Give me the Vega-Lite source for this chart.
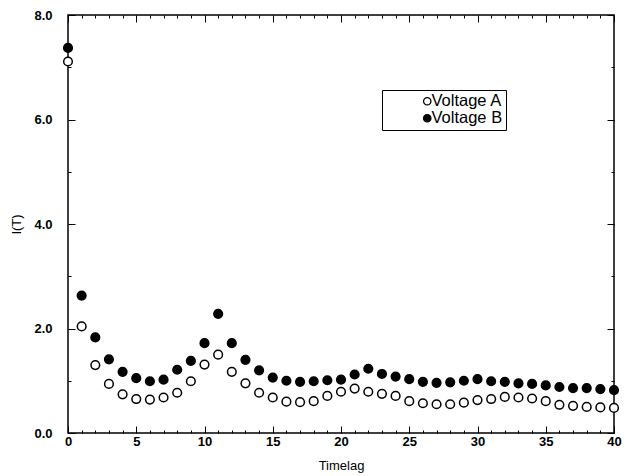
{
  "$schema": "https://vega.github.io/schema/vega-lite/v6.json",
  "autosize": "none",
  "width": 546,
  "height": 418,
  "padding": {"left": 68, "top": 15, "right": 13, "bottom": 43},
  "background": "white",
  "config": {
    "view": {"stroke": "black", "strokeWidth": 1.5},
    "font": "Liberation Sans",
    "axis": {"grid": false, "zindex": 1, "domainWidth": 0, "tickColor": "black", "labelColor": "black", "titleColor": "black", "labelFontSize": 13, "titleFontSize": 13, "titleFontWeight": "normal", "labelFontWeight": "bold", "labelOverlap": false}
  },
  "data": {"values": [
    {"t":0,"series":"Voltage A","v":7.11},{"t":0,"series":"Voltage B","v":7.37},
    {"t":1,"series":"Voltage A","v":2.04},{"t":1,"series":"Voltage B","v":2.63},
    {"t":2,"series":"Voltage A","v":1.30},{"t":2,"series":"Voltage B","v":1.83},
    {"t":3,"series":"Voltage A","v":0.94},{"t":3,"series":"Voltage B","v":1.41},
    {"t":4,"series":"Voltage A","v":0.74},{"t":4,"series":"Voltage B","v":1.17},
    {"t":5,"series":"Voltage A","v":0.65},{"t":5,"series":"Voltage B","v":1.05},
    {"t":6,"series":"Voltage A","v":0.64},{"t":6,"series":"Voltage B","v":0.99},
    {"t":7,"series":"Voltage A","v":0.68},{"t":7,"series":"Voltage B","v":1.02},
    {"t":8,"series":"Voltage A","v":0.77},{"t":8,"series":"Voltage B","v":1.21},
    {"t":9,"series":"Voltage A","v":0.99},{"t":9,"series":"Voltage B","v":1.38},
    {"t":10,"series":"Voltage A","v":1.31},{"t":10,"series":"Voltage B","v":1.72},
    {"t":11,"series":"Voltage A","v":1.50},{"t":11,"series":"Voltage B","v":2.28},
    {"t":12,"series":"Voltage A","v":1.17},{"t":12,"series":"Voltage B","v":1.72},
    {"t":13,"series":"Voltage A","v":0.95},{"t":13,"series":"Voltage B","v":1.40},
    {"t":14,"series":"Voltage A","v":0.77},{"t":14,"series":"Voltage B","v":1.20},
    {"t":15,"series":"Voltage A","v":0.68},{"t":15,"series":"Voltage B","v":1.06},
    {"t":16,"series":"Voltage A","v":0.60},{"t":16,"series":"Voltage B","v":1.00},
    {"t":17,"series":"Voltage A","v":0.59},{"t":17,"series":"Voltage B","v":0.98},
    {"t":18,"series":"Voltage A","v":0.61},{"t":18,"series":"Voltage B","v":0.99},
    {"t":19,"series":"Voltage A","v":0.71},{"t":19,"series":"Voltage B","v":1.01},
    {"t":20,"series":"Voltage A","v":0.79},{"t":20,"series":"Voltage B","v":1.02},
    {"t":21,"series":"Voltage A","v":0.85},{"t":21,"series":"Voltage B","v":1.12},
    {"t":22,"series":"Voltage A","v":0.79},{"t":22,"series":"Voltage B","v":1.23},
    {"t":23,"series":"Voltage A","v":0.75},{"t":23,"series":"Voltage B","v":1.13},
    {"t":24,"series":"Voltage A","v":0.71},{"t":24,"series":"Voltage B","v":1.08},
    {"t":25,"series":"Voltage A","v":0.61},{"t":25,"series":"Voltage B","v":1.03},
    {"t":26,"series":"Voltage A","v":0.57},{"t":26,"series":"Voltage B","v":0.98},
    {"t":27,"series":"Voltage A","v":0.55},{"t":27,"series":"Voltage B","v":0.96},
    {"t":28,"series":"Voltage A","v":0.55},{"t":28,"series":"Voltage B","v":0.97},
    {"t":29,"series":"Voltage A","v":0.58},{"t":29,"series":"Voltage B","v":1.00},
    {"t":30,"series":"Voltage A","v":0.63},{"t":30,"series":"Voltage B","v":1.03},
    {"t":31,"series":"Voltage A","v":0.65},{"t":31,"series":"Voltage B","v":0.99},
    {"t":32,"series":"Voltage A","v":0.69},{"t":32,"series":"Voltage B","v":0.98},
    {"t":33,"series":"Voltage A","v":0.68},{"t":33,"series":"Voltage B","v":0.95},
    {"t":34,"series":"Voltage A","v":0.66},{"t":34,"series":"Voltage B","v":0.94},
    {"t":35,"series":"Voltage A","v":0.61},{"t":35,"series":"Voltage B","v":0.91},
    {"t":36,"series":"Voltage A","v":0.54},{"t":36,"series":"Voltage B","v":0.88},
    {"t":37,"series":"Voltage A","v":0.52},{"t":37,"series":"Voltage B","v":0.86},
    {"t":38,"series":"Voltage A","v":0.50},{"t":38,"series":"Voltage B","v":0.86},
    {"t":39,"series":"Voltage A","v":0.49},{"t":39,"series":"Voltage B","v":0.84},
    {"t":40,"series":"Voltage A","v":0.48},{"t":40,"series":"Voltage B","v":0.82}
  ]},
  "layer": [
    {
      "mark": {"type": "point", "filled": true, "stroke": "black", "strokeWidth": 1.5, "size": 75, "opacity": 1, "shape": "circle"},
      "encoding": {
        "x": {"field": "t", "type": "quantitative", "title": "Timelag",
          "scale": {"domain": [0, 40], "nice": false, "zero": false},
          "axis": {"orient": "bottom", "values": [0, 5, 10, 15, 20, 25, 30, 35, 40], "offset": -7, "tickSize": 7, "labelPadding": 2, "titlePadding": 11, "labelFlush": false}},
        "y": {"field": "v", "type": "quantitative", "title": "I(T)",
          "scale": {"domain": [0, 8], "nice": false},
          "axis": {"orient": "left", "values": [0, 2, 4, 6, 8], "format": ".1f", "offset": -7, "tickSize": 7, "labelPadding": 16, "titlePadding": 10}},
        "fill": {"field": "series", "type": "nominal",
          "scale": {"domain": ["Voltage A", "Voltage B"], "range": ["white", "black"]},
          "legend": {"title": null, "orient": "none", "legendX": 314, "legendY": 75, "strokeColor": "black", "fillColor": "white", "padding": 3, "labelFontSize": 16.5, "labelFontWeight": "normal", "labelColor": "black", "symbolStrokeColor": "black", "symbolStrokeWidth": 1.3, "symbolSize": 55, "symbolType": "circle", "symbolOffset": 34, "rowPadding": 0, "labelOffset": -4}}
      }
    },
    {
      "mark": {"type": "point", "opacity": 0},
      "encoding": {
        "x": {"field": "t", "type": "quantitative",
          "scale": {"domain": [0, 40], "nice": false, "zero": false},
          "axis": {"orient": "top", "title": null, "labels": false, "values": [0, 5, 10, 15, 20, 25, 30, 35, 40], "offset": -7, "tickSize": 7}},
        "y": {"field": "v", "type": "quantitative",
          "scale": {"domain": [0, 8], "nice": false},
          "axis": {"orient": "right", "title": null, "labels": false, "values": [0, 2, 4, 6, 8], "offset": -7, "tickSize": 7}}
      }
    },
    {
      "mark": {"type": "point", "opacity": 0},
      "encoding": {
        "x": {"field": "t", "type": "quantitative",
          "scale": {"domain": [0, 40], "nice": false, "zero": false},
          "axis": {"orient": "bottom", "title": null, "labels": false, "values": [1,2,3,4,6,7,8,9,11,12,13,14,16,17,18,19,21,22,23,24,26,27,28,29,31,32,33,34,36,37,38,39], "offset": -3, "tickSize": 3}},
        "y": {"field": "v", "type": "quantitative",
          "scale": {"domain": [0, 8], "nice": false},
          "axis": {"orient": "left", "title": null, "labels": false, "values": [1, 3, 5, 7], "offset": -3, "tickSize": 3}}
      }
    },
    {
      "mark": {"type": "point", "opacity": 0},
      "encoding": {
        "x": {"field": "t", "type": "quantitative",
          "scale": {"domain": [0, 40], "nice": false, "zero": false},
          "axis": {"orient": "top", "title": null, "labels": false, "values": [1,2,3,4,6,7,8,9,11,12,13,14,16,17,18,19,21,22,23,24,26,27,28,29,31,32,33,34,36,37,38,39], "offset": -3, "tickSize": 3}},
        "y": {"field": "v", "type": "quantitative",
          "scale": {"domain": [0, 8], "nice": false},
          "axis": {"orient": "right", "title": null, "labels": false, "values": [1, 3, 5, 7], "offset": -3, "tickSize": 3}}
      }
    }
  ],
  "resolve": {"axis": {"x": "independent", "y": "independent"}}
}
